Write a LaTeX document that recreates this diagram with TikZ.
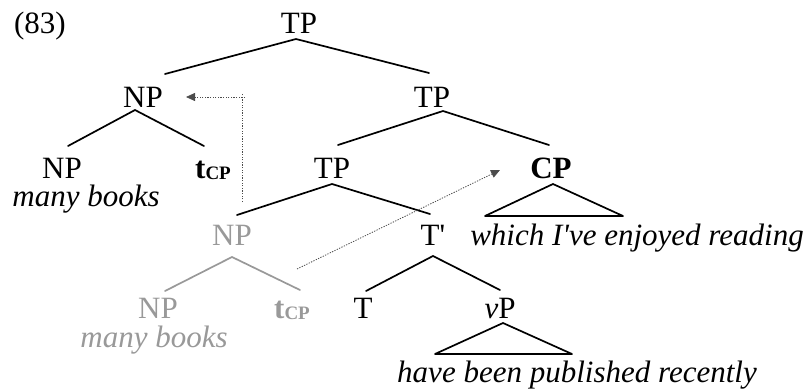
\documentclass[tikz,border=0pt]{standalone}
\usepackage{fontspec}
\setmainfont{Liberation Serif}
\usetikzlibrary{arrows.meta}
\definecolor{ghost}{gray}{0.6}
\definecolor{mvcol}{gray}{0.3}
\begin{document}
\begin{tikzpicture}[x=1pt,y=-1pt,
  every node/.style={inner sep=0pt,anchor=base,font=\fontsize{31}{36}\selectfont},
  gh/.style={text=ghost},
  it/.style={font=\fontsize{31}{36}\selectfont\itshape},
  br/.style={line width=1.7pt,line cap=round},
  ghbr/.style={br,draw=ghost},
  mv/.style={draw=mvcol,line width=0.8pt,dash pattern=on 1.3pt off 1.3pt},
  tip/.style={-{Triangle[length=9pt,width=8pt]}}
]
\useasboundingbox (0,0) rectangle (809,391);
\newcommand{\trc}{\textbf{t\raisebox{-1pt}{\fontsize{19}{19}\selectfont CP}}}
% nodes
\node (ex)   at (40,33)  {(83)};
\node (tp0)  at (299,33) {TP};
\node (np1)  at (143,107) {NP};
\node (tp2)  at (432,107) {TP};
\node (np1a) at (62,178) {NP};
\node[it] (mb1) at (86,206) {many books};
\node (t1)   at (213,178) {\trc};
\node (tp3)  at (332,178) {TP};
\node (cp)   at (551,178) {\textbf{CP}};
\node[it] (which) at (637,245) {which I\textquotesingle ve enjoyed reading};
\node[gh] (npg) at (232,245) {NP};
\node (tbar) at (433,245) {T\textquotesingle};
\node[gh] (npg2) at (158,318) {NP};
\node[it,gh] (mbg) at (154,347) {many books};
\node[gh] (tg) at (292,318) {\trc};
\node (t)    at (363,318) {T};
\node (vp)   at (500,318) {\textit{v}P};
\node[it] (have) at (577,382) {have been published recently};
% branches
\draw[br] ([shift={(22,-33)}]np1.base) -- ([shift={(-3,6)}]tp0.base) -- ([shift={(-3,-34)}]tp2.base);
\draw[br] ([shift={(6,-32)}]np1a.base) -- ([shift={(-8,3)}]np1.base) -- ([shift={(-9,-32)}]t1.base);
\draw[br] ([shift={(6,-33)}]tp3.base) -- ([shift={(11,4)}]tp2.base) -- ([shift={(-2,-33)}]cp.base);
\draw[br] ([shift={(5,-30)}]npg.base) -- ([shift={(0,6)}]tp3.base) -- ([shift={(-3,-31)}]tbar.base);
\draw[ghbr] ([shift={(7,-27)}]npg2.base) -- ([shift={(0,12)}]npg.base) -- ([shift={(8,-28)}]tg.base);
\draw[br] ([shift={(3,-27)}]t.base) -- ([shift={(0,11)}]tbar.base) -- ([shift={(0,-28)}]vp.base);
% triangles
\draw[br,line join=round] ([shift={(2,6)}]cp.base) -- ([shift={(-66,38)}]cp.base) -- ([shift={(72,38)}]cp.base) -- cycle;
\draw[br,line join=round] ([shift={(3,5)}]vp.base) -- ([shift={(-65,36)}]vp.base) -- ([shift={(72,36)}]vp.base) -- cycle;
% movement arrows
\draw[mv] ([shift={(10,-43)}]npg.base) -- ([shift={(10,-152)}]npg.base);
\draw[mv,tip] ([shift={(13,-148)}]npg.base) -- ([shift={(43,-10)}]np1.base);
\draw[mv,tip] ([shift={(5,-49)}]tg.base) -- ([shift={(-51,-8)}]cp.base);
\end{tikzpicture}
\end{document}
